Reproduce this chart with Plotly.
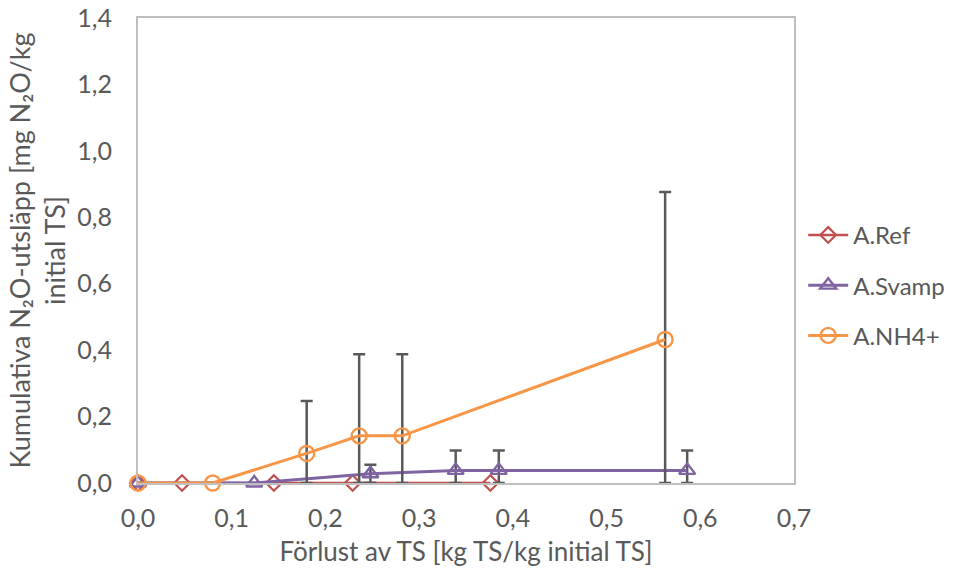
import plotly.graph_objects as go

# Data
ref_x = [0.0, 0.047, 0.145, 0.229, 0.376]
ref_y = [0.0, 0.0, 0.0, 0.0, 0.0]

svamp_x = [0.0, 0.124, 0.248, 0.339, 0.385, 0.586]
svamp_y = [0.0, 0.0, 0.028, 0.038, 0.038, 0.038]
svamp_err = [0.0, 0.0, 0.027, 0.06, 0.06, 0.06]

nh4_x = [0.0, 0.0797, 0.18, 0.236, 0.282, 0.5625]
nh4_y = [0.0, 0.0, 0.089, 0.142, 0.142, 0.432]
nh4_err = [0.0, 0.0, 0.158, 0.246, 0.246, 0.444]

x_ticks = [0.0, 0.1, 0.2, 0.3, 0.4, 0.5, 0.6, 0.7]
y_ticks = [0.0, 0.2, 0.4, 0.6, 0.8, 1.0, 1.2, 1.4]

def lbl(v):
    return f"{v:.1f}".replace(".", ",")

def minus(vals, errs):
    return [min(v, e) for v, e in zip(vals, errs)]

FONT = "Lato"
GRAY = "#595959"
AX = "#bfbfbf"

fig = go.Figure()

fig.add_trace(go.Scatter(
    x=ref_x, y=ref_y, name="A.Ref", mode="lines+markers", legendgroup="a",
    line=dict(color="#c0504d", width=2.5),
    marker=dict(symbol="diamond-open", size=12, color="#c0504d", line=dict(width=2.2)),
    cliponaxis=False,
))
fig.add_trace(go.Scatter(
    x=svamp_x, y=svamp_y, name="A.Svamp", mode="lines+markers", legendgroup="b",
    line=dict(color="#8064a2", width=3),
    marker=dict(symbol="triangle-up-open", size=14, color="#8064a2", line=dict(width=2.4)),
    error_y=dict(type="data", symmetric=False, array=svamp_err,
                 arrayminus=minus(svamp_y, svamp_err),
                 color=GRAY, thickness=2.5, width=6),
    cliponaxis=False,
))
fig.add_trace(go.Scatter(
    x=nh4_x, y=nh4_y, name="A.NH4+", mode="lines+markers", legendgroup="c",
    line=dict(color="#f79646", width=3),
    marker=dict(symbol="circle-open", size=15, color="#f79646", line=dict(width=2.4)),
    error_y=dict(type="data", symmetric=False, array=nh4_err,
                 arrayminus=minus(nh4_y, nh4_err),
                 color=GRAY, thickness=2.5, width=6),
    cliponaxis=False,
))

fig.update_layout(
    width=965, height=571,
    margin=dict(l=138, r=171, t=18, b=88),
    paper_bgcolor="white", plot_bgcolor="white",
    font=dict(family=FONT, size=25, color=GRAY),
    showlegend=True,
    legend=dict(x=1.014, y=0.425, xanchor="left", yanchor="middle",
                font=dict(size=24, color=GRAY), tracegroupgap=16,
                traceorder="grouped", itemwidth=40, bgcolor="rgba(0,0,0,0)"),
    xaxis=dict(
        range=[0, 0.7], tickvals=x_ticks, ticktext=[lbl(v) for v in x_ticks],
        showgrid=False, zeroline=False, showline=True, linecolor=AX, linewidth=2,
        mirror=True, ticks="", ticklabelstandoff=12, automargin=False,
        tickfont=dict(size=25),
        title=dict(text="Förlust av TS [kg TS/kg initial TS]", standoff=12,
                   font=dict(size=26, color=GRAY)),
    ),
    yaxis=dict(
        range=[0, 1.4], tickvals=y_ticks, ticktext=[lbl(v) for v in y_ticks],
        showgrid=False, zeroline=False, showline=True, linecolor=AX, linewidth=2,
        mirror=True, ticks="", ticklabelstandoff=19, automargin=False,
        tickfont=dict(size=25),
        title=dict(text="Kumulativa N₂O-utsläpp [mg N₂O/kg<br>initial TS]", standoff=4,
                   font=dict(size=27, color=GRAY)),
    ),
)

fig.write_html("out.html")
